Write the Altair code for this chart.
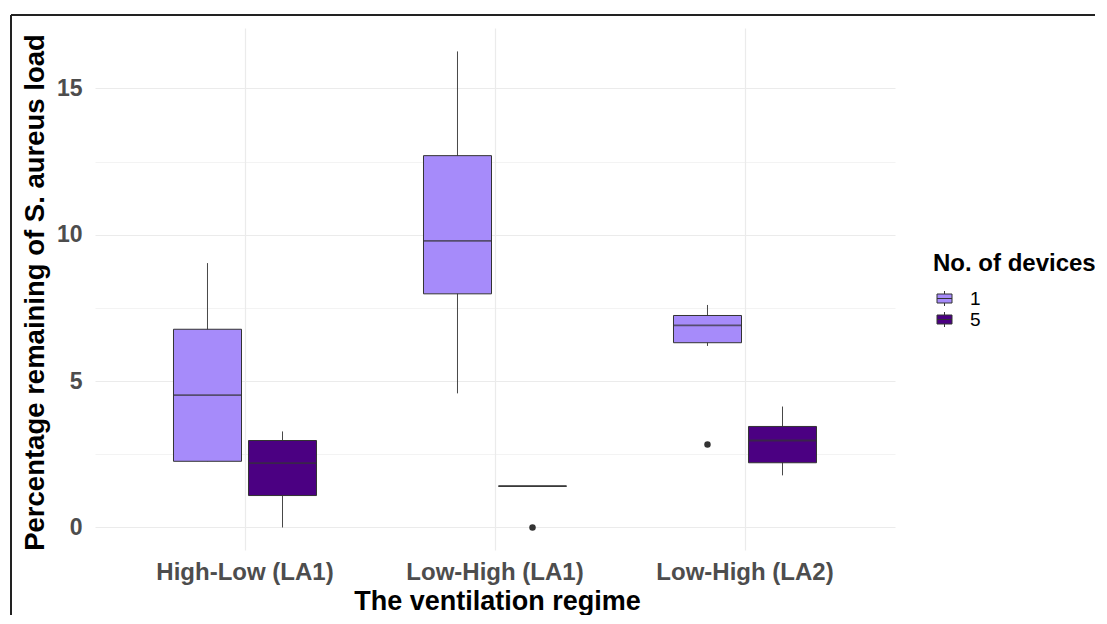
import altair as alt
import pandas as pd

# ---- data ----
regimes = ["High-Low (LA1)", "High-Low (LA1)", "Low-High (LA1)", "Low-High (LA1)",
           "Low-High (LA2)", "Low-High (LA2)"]
devices = ["1", "5", "1", "5", "1", "5"]
lower = [2.26, 0.00, 4.58, 1.41, 6.20, 1.78]
q1 = [2.26, 1.09, 7.98, 1.41, 6.31, 2.21]
median = [4.52, 2.20, 9.79, 1.41, 6.90, 2.97]
q3 = [6.77, 2.97, 12.70, 1.41, 7.24, 3.45]
upper = [9.03, 3.28, 16.26, 1.41, 7.60, 4.13]

out_regime = ["Low-High (LA1)", "Low-High (LA2)"]
out_device = ["5", "1"]
out_value = [0.00, 2.83]

regime_order = ["High-Low (LA1)", "Low-High (LA1)", "Low-High (LA2)"]
device_order = ["1", "5"]
fill_colors = ["#A68BFA", "#4B0082"]

stats = pd.DataFrame({"regime": regimes, "device": devices, "lower": lower,
                      "q1": q1, "median": median, "q3": q3, "upper": upper})
outs = pd.DataFrame({"regime": out_regime, "device": out_device, "value": out_value})

FONT = "Liberation Sans"
W, H = 800, 522

x_enc = alt.X("regime:N", sort=regime_order,
              scale=alt.Scale(domain=regime_order, paddingInner=0, paddingOuter=0.1),
              axis=alt.Axis(title="The ventilation regime", labelAngle=0,
                            labelFontSize=24, labelFontWeight="bold", labelColor="#4D4D4D",
                            labelBaseline="alphabetic", labelPadding=29,
                            titleFontSize=27, titleFontWeight="bold", titleColor="#000000",
                            titleBaseline="alphabetic", titleY=59, titleX=402,
                            grid=True, gridColor="#EBEBEB", gridWidth=1.2,
                            domain=False, ticks=False))
xo_enc = alt.XOffset("device:N", sort=device_order,
                     scale=alt.Scale(domain=device_order, paddingInner=0.0933, paddingOuter=0.713))

y_scale = alt.Scale(domain=[-0.77, 17.06], nice=False, zero=False)
y_axis = alt.Axis(title="Percentage remaining of S. aureus load",
                  values=[0, 2.5, 5, 7.5, 10, 12.5, 15],
                  labelExpr="datum.value % 5 == 0 ? datum.label : ''",
                  labelFontSize=23, labelFontWeight="bold", labelColor="#4D4D4D",
                  labelPadding=13,
                  titleFontSize=27.5, titleFontWeight="bold", titleColor="#000000",
                  titleX=-60, titleY=264, titleAngle=270,
                  titleBaseline="middle", titleAlign="center",
                  grid=True, gridColor="#EBEBEB",
                  gridWidth={"condition": {"test": "datum.value % 5 == 0", "value": 1.2},
                             "value": 0.6},
                  domain=False, ticks=False)

base = alt.Chart(stats)

whiskers = base.mark_rule(color="#333333", strokeWidth=0.9).encode(
    x=x_enc, xOffset=xo_enc,
    y=alt.Y("lower:Q", scale=y_scale, axis=y_axis),
    y2="upper:Q",
)

boxes = base.mark_bar(stroke="#333333", strokeWidth=1).encode(
    x=x_enc, xOffset=xo_enc,
    y=alt.Y("q1:Q", scale=y_scale),
    y2="q3:Q",
    fill=alt.Fill("device:N", sort=device_order,
                  scale=alt.Scale(domain=device_order, range=fill_colors),
                  legend=alt.Legend(title="No. of devices", orient="none",
                                    legendX=838, legendY=224, padding=0,
                                    titleFontSize=24, titleFontWeight="bold",
                                    titleColor="#000000", titlePadding=13,
                                    labelFontSize=19, labelColor="#000000",
                                    labelOffset=16, rowPadding=1,
                                    symbolType="M-1,-0.6H1V0.6H-1Z M0,-1V-0.6 M0,0.6V1 M-1,0H1",
                                    symbolSize=225, symbolStrokeColor="#333333",
                                    symbolStrokeWidth=1, symbolOffset=2)),
)

medians = base.mark_tick(color="#333333", thickness=1.8, size=68).encode(
    x=x_enc, xOffset=xo_enc,
    y=alt.Y("median:Q", scale=y_scale),
)

outliers = alt.Chart(outs).mark_point(filled=True, color="#333333", size=42, opacity=1).encode(
    x=x_enc, xOffset=xo_enc,
    y=alt.Y("value:Q", scale=y_scale),
)

frame_data = alt.Data(values=[{"k": 1}])
frame_top = alt.Chart(frame_data).mark_rule(color="#222222", strokeWidth=2).encode(
    x=alt.value(-84), x2=alt.value(1000), y=alt.value(-13))
frame_left = alt.Chart(frame_data).mark_rule(color="#222222", strokeWidth=2).encode(
    x=alt.value(-84), y=alt.value(-13), y2=alt.value(590))

chart = alt.layer(whiskers, boxes, medians, outliers, frame_top, frame_left).properties(
    width=W, height=H,
    autosize=alt.AutoSizeParams(type="none"),
    padding={"left": 87, "top": 20, "right": 200, "bottom": 65},
    background="white",
).configure(
    font=FONT,
    view=alt.ViewConfig(stroke="transparent", strokeWidth=0),
)

chart.save("out.html", embed_options={"renderer": "svg", "actions": False})
